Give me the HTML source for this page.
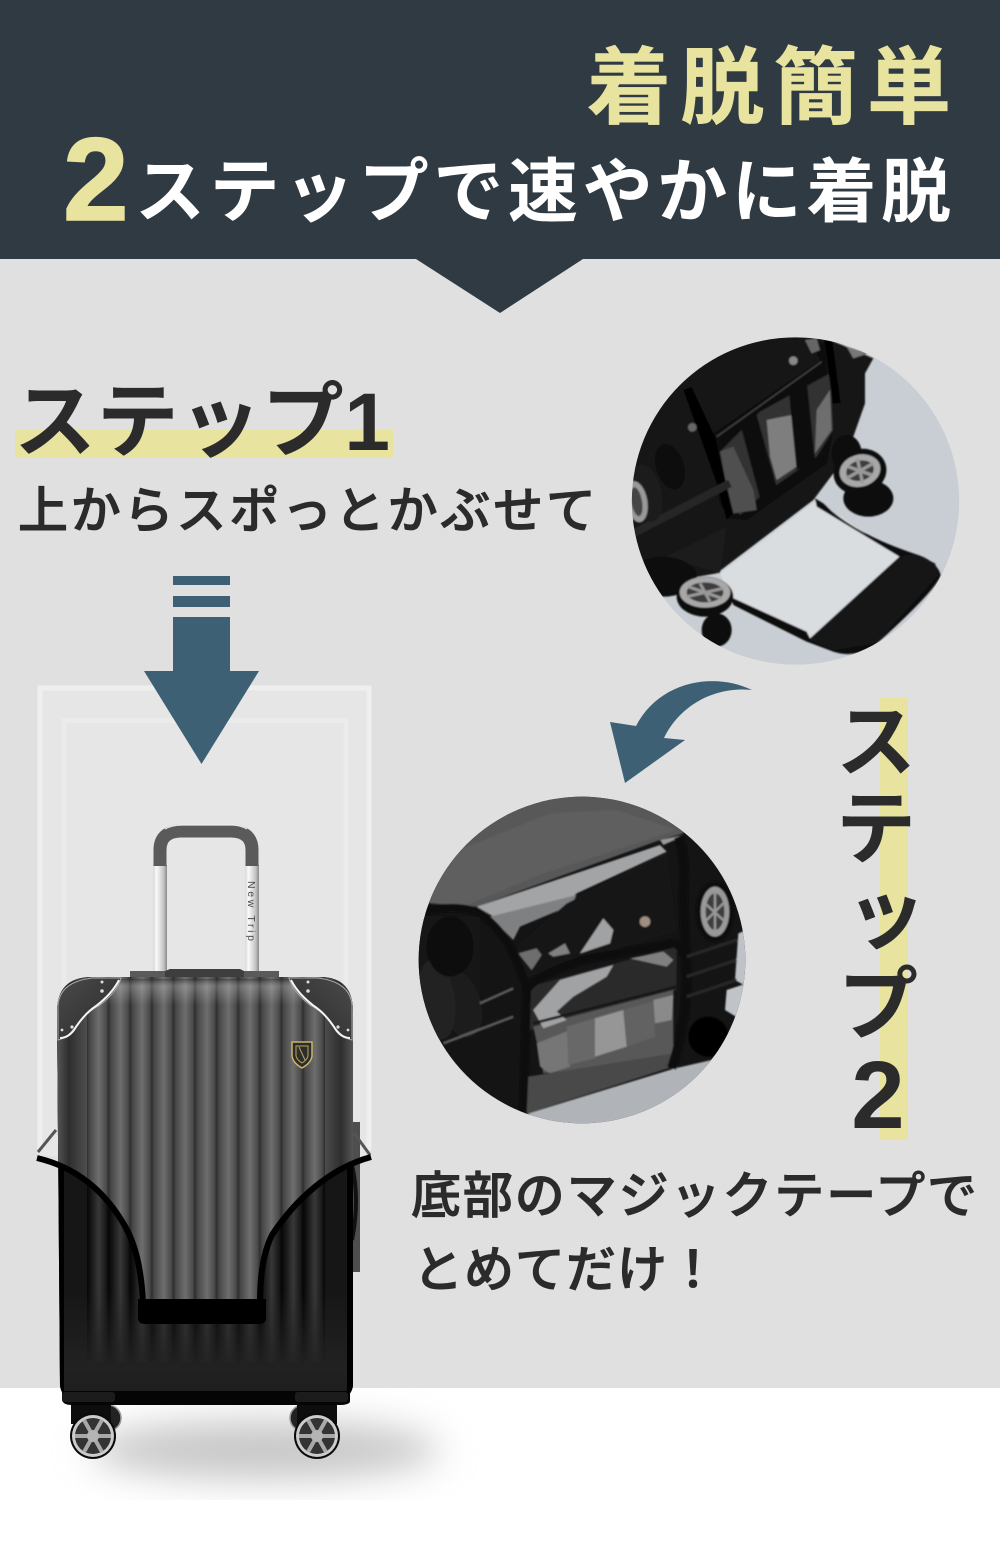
<!DOCTYPE html>
<html lang="ja"><head><meta charset="utf-8"><style>
html,body{margin:0;padding:0;background:#fff}
svg{display:block}
text{font-family:"Liberation Sans","Noto Sans CJK JP",sans-serif}
</style></head><body>
<svg xmlns="http://www.w3.org/2000/svg" width="1000" height="1567" viewBox="0 0 1000 1567">
<defs>
<linearGradient id="ribU" x1="0" x2="1" y1="0" y2="0"><stop offset="0" stop-color="#2e2e2e"/><stop offset=".1" stop-color="#464646"/><stop offset=".55" stop-color="#6e6e6e"/><stop offset=".9" stop-color="#4a4a4a"/><stop offset="1" stop-color="#2e2e2e"/></linearGradient>
<linearGradient id="ribL" x1="0" x2="1" y1="0" y2="0"><stop offset="0" stop-color="#060606"/><stop offset=".15" stop-color="#121212"/><stop offset=".55" stop-color="#383838"/><stop offset=".9" stop-color="#161616"/><stop offset="1" stop-color="#060606"/></linearGradient>
<pattern id="pU" patternUnits="userSpaceOnUse" x="87" y="0" width="21.6" height="10"><rect width="21.6" height="10" fill="url(#ribU)"/></pattern>
<pattern id="pL" patternUnits="userSpaceOnUse" x="87" y="0" width="21.6" height="10"><rect width="21.6" height="10" fill="url(#ribL)"/></pattern>
<linearGradient id="edgeU" x1="0" x2="1" y1="0" y2="0"><stop offset="0" stop-color="#555"/><stop offset=".04" stop-color="#2e2e2e"/><stop offset=".1" stop-color="#4e4e4e"/><stop offset=".9" stop-color="#4e4e4e"/><stop offset=".96" stop-color="#2e2e2e"/><stop offset="1" stop-color="#555"/></linearGradient>
<linearGradient id="fadeL" x1="0" x2="0" y1="0" y2="1"><stop offset="0" stop-color="#222" stop-opacity="0"/><stop offset=".7" stop-color="#222" stop-opacity=".95"/><stop offset="1" stop-color="#1d1d1d"/></linearGradient>
<linearGradient id="topH" x1="0" x2="0" y1="0" y2="1"><stop offset="0" stop-color="#222" stop-opacity=".4"/><stop offset=".3" stop-color="#fff" stop-opacity=".22"/><stop offset="1" stop-color="#fff" stop-opacity="0"/></linearGradient>
<linearGradient id="pole" x1="0" x2="1" y1="0" y2="0"><stop offset="0" stop-color="#d8d8d8"/><stop offset=".25" stop-color="#fafafa"/><stop offset=".75" stop-color="#c4c4c4"/><stop offset="1" stop-color="#8a8a8a"/></linearGradient>
<linearGradient id="corner" x1="0" y1="0" x2="1" y2="1"><stop offset="0" stop-color="#4a4a4a"/><stop offset="1" stop-color="#2a2a2a"/></linearGradient>
<filter id="b1" x="-50%" y="-100%" width="200%" height="300%"><feGaussianBlur stdDeviation="18"/></filter>
<filter id="s" x="-10%" y="-10%" width="120%" height="120%"><feGaussianBlur stdDeviation="2.5"/></filter>
<clipPath id="cShadow"><rect x="0" y="1389" width="1000" height="111"/></clipPath>
<clipPath id="bodyC"><path d="M57,1012 Q57,977 92,977 H320 Q353,977 353,1012 V1385 Q352,1396 340,1400 H72 Q61,1396 60,1385 Z"/></clipPath>
<clipPath id="upperC"><path d="M0,900 H400 V1157 L371,1157 C330,1168 295,1200 272,1235 C262,1255 260,1280 260,1303 H143 C142,1280 138,1250 126,1228 C105,1190 75,1167 36,1158 L0,1158 Z"/></clipPath>
<clipPath id="c1"><circle cx="526.5" cy="513" r="491"/></clipPath>
<clipPath id="c2"><circle cx="516" cy="510" r="490"/></clipPath>
</defs>

<!-- backgrounds -->
<rect width="1000" height="1567" fill="#fff"/>
<rect y="259" width="1000" height="1129" fill="#e0e0e0"/>
<rect width="1000" height="259" fill="#303a42"/>
<polygon points="416,259 500,313 583,259" fill="#303a42"/>

<!-- header -->
<text x="587" y="117" font-size="84" font-weight="700" fill="#e8e4a0" stroke="#e8e4a0" stroke-width=".6" textLength="364" lengthAdjust="spacing">着脱簡単</text>
<text x="63" y="220" font-size="118" font-weight="700" fill="#e8e4a0" stroke="#e8e4a0" stroke-width="1.5">2</text>
<text x="135" y="216" font-size="70" font-weight="700" fill="#fff" textLength="816" lengthAdjust="spacing">ステップで速やかに着脱</text>

<!-- step 1 -->
<rect x="15" y="430" width="378" height="28" fill="#e8e4a0"/>
<text x="14" y="450" font-size="82" font-weight="700" fill="#2b2b2b" textLength="376" lengthAdjust="spacing">ステップ1</text>
<text x="18" y="528" font-size="50" font-weight="500" fill="#2b2b2b" stroke="#2b2b2b" stroke-width=".9" textLength="578" lengthAdjust="spacing">上からスポっとかぶせて</text>

<!-- frame -->
<rect x="38" y="686" width="333" height="470" fill="#e6e6e6"/>
<path d="M40,1150 V688 H369 V1150" fill="none" stroke="#efefef" stroke-width="5"/>
<path d="M64,1150 V720.500 H346 V1150" fill="none" stroke="#ebebeb" stroke-width="5"/>

<!-- down arrow -->
<rect x="173" y="576" width="57" height="9" fill="#3d6075"/>
<rect x="173" y="596" width="57" height="11" fill="#3d6075"/>
<rect x="173" y="617" width="57" height="55" fill="#3d6075"/>
<polygon points="144,671 259,671 201.5,764" fill="#3d6075"/>

<!-- shadow -->
<g clip-path="url(#cShadow)"><ellipse cx="265" cy="1450" rx="175" ry="30" fill="#c8c8c8" filter="url(#b1)"/></g>

<!-- handle -->
<rect x="153" y="865" width="14" height="108" fill="url(#pole)"/>
<rect x="245" y="865" width="14" height="108" fill="url(#pole)"/>
<path d="M160,866 V850 Q160,832 180,831 H232 Q252,832 252,850 V866" fill="none" stroke="#5a5a5a" stroke-width="13"/>
<path d="M165,829 Q172,825 182,825 H232 Q240,825 247,829" fill="none" stroke="#eee" stroke-width="1.200"/>
<text transform="translate(248,881) rotate(90)" font-size="10.500" fill="#4a4a4a" textLength="60">New Trip</text>
<rect x="130" y="971" width="149" height="6" fill="#5a5a5a"/>
<polygon points="165,971 170,969 240,969 244,971 244,977 165,977" fill="#3e3e3e"/>

<!-- side straps (right handle) -->
<rect x="353" y="1122" width="7" height="150" fill="#4e4e4e"/>
<path d="M352,1165 Q360,1200 352,1240" fill="none" stroke="#111" stroke-width="4"/>
<path d="M38,1152 L56,1130" stroke="#555" stroke-width="3"/>
<path d="M354,1133 L370,1155" stroke="#555" stroke-width="3"/>

<!-- wheels back -->
<circle cx="108" cy="1418" r="13" fill="#222" stroke="#999" stroke-width="1.500"/>
<circle cx="303" cy="1418" r="13" fill="#222" stroke="#999" stroke-width="1.500"/>
<rect x="71" y="1400" width="40" height="24" fill="#0d0d0d"/>
<rect x="297" y="1400" width="40" height="24" fill="#0d0d0d"/>

<!-- body lower -->
<g clip-path="url(#bodyC)">
 <rect x="57" y="977" width="296" height="425" fill="#161616"/>
 <rect x="87" y="977" width="238" height="385" fill="url(#pL)"/>
 <rect x="57" y="1290" width="296" height="110" fill="url(#fadeL)"/>
 <rect x="57" y="977" width="7" height="425" fill="#000"/>
 <rect x="347" y="977" width="7" height="425" fill="#000"/>
 <!-- upper with cover -->
 <g clip-path="url(#upperC)">
  <rect x="57" y="977" width="296" height="330" fill="url(#edgeU)"/>
  <rect x="87" y="977" width="238" height="330" fill="url(#pU)"/>
  <rect x="87" y="979" width="238" height="26" fill="url(#topH)"/>
 </g>
</g>
<!-- base -->
<path d="M62,1391 H350 V1402 Q348,1405 340,1405 H72 Q63,1405 62,1400 Z" fill="#050505"/>
<rect x="62" y="1392" width="53" height="10" rx="3" fill="#1c1c1c"/>
<rect x="295" y="1392" width="53" height="10" rx="3" fill="#1c1c1c"/>

<!-- corners -->
<g>
<path d="M58,1040 V1005 Q60,982 92,978 H121 Q117,992 100,1005 Q86,1012 76,1026 Q68,1038 58,1040 Z" fill="url(#corner)" stroke="#aaa" stroke-width="1"/>
<path d="M119,980 Q112,994 96,1006 Q84,1014 74,1030 Q68,1038 60,1038" fill="none" stroke="#f4f4f4" stroke-width="2"/>
<circle cx="102" cy="982" r="1.500" fill="#ddd"/><circle cx="102" cy="991" r="1.800" fill="#ddd"/><circle cx="72" cy="1027" r="1.600" fill="#ddd"/><circle cx="62" cy="1030" r="1.400" fill="#ddd"/>
</g>
<g transform="translate(410,0) scale(-1,1)">
<path d="M58,1040 V1005 Q60,982 92,978 H121 Q117,992 100,1005 Q86,1012 76,1026 Q68,1038 58,1040 Z" fill="url(#corner)" stroke="#aaa" stroke-width="1"/>
<path d="M119,980 Q112,994 96,1006 Q84,1014 74,1030 Q68,1038 60,1038" fill="none" stroke="#f4f4f4" stroke-width="2"/>
<circle cx="102" cy="982" r="1.500" fill="#ddd"/><circle cx="102" cy="991" r="1.800" fill="#ddd"/><circle cx="72" cy="1027" r="1.600" fill="#ddd"/><circle cx="62" cy="1030" r="1.400" fill="#ddd"/>
</g>
<!-- logo -->
<path d="M292,1042 H312 V1056 Q311,1063 302,1068 Q293,1063 292,1056 Z" fill="#2d2d2d" stroke="#c9b56a" stroke-width="1.500"/>
<path d="M296,1046 H308 V1056 Q307,1060 302,1063 Q297,1060 296,1056 Z M299,1047 L305,1060" fill="none" stroke="#b9a75f" stroke-width="1"/>

<!-- cover edge -->
<path d="M37,1158 C75,1167 105,1190 126,1228 C138,1250 142,1280 143,1303" fill="none" stroke="#000" stroke-width="6"/>
<path d="M371,1157 C330,1168 295,1200 272,1235 C262,1255 260,1280 260,1303" fill="none" stroke="#000" stroke-width="6"/>
<path d="M138,1299 H266 V1318 Q266,1324 259,1324 H145 Q138,1324 138,1318 Z" fill="#000"/>

<!-- front wheels -->
<g>
<circle cx="93" cy="1436" r="23" fill="#0a0a0a"/><circle cx="93" cy="1436" r="21" fill="#ccc"/><circle cx="93" cy="1436" r="18" fill="#333"/>
<path d="M75,1436 H111 M84,1420 L102,1452 M84,1452 L102,1420" stroke="#a8a8a8" stroke-width="4"/><circle cx="93" cy="1436" r="6" fill="#b4b4b4"/>
<circle cx="317" cy="1436" r="23" fill="#0a0a0a"/><circle cx="317" cy="1436" r="21" fill="#ccc"/><circle cx="317" cy="1436" r="18" fill="#333"/>
<path d="M299,1436 H335 M308,1420 L326,1452 M308,1452 L326,1420" stroke="#a8a8a8" stroke-width="4"/><circle cx="317" cy="1436" r="6" fill="#b4b4b4"/>
</g>

<!-- photo circle 1 -->
<g transform="translate(620,330) scale(.33333)">
<g clip-path="url(#c1)">
<rect width="1050" height="1035" fill="#c8ced4"/>
<g filter="url(#s)">
<!-- plastic & velcro -->
<polygon points="590,510 840,680 570,930 340,825 300,730" fill="#d9dde0"/>
<path d="M585,505 L610,520 Q700,610 880,670 Q950,690 962,735 Q950,780 760,950 Q700,985 640,965 L560,935 L340,825 L330,800 L560,905 L570,925 L838,680 L590,530 Z" fill="#111"/>
<polygon points="840,680 885,672 945,700 955,735 770,940 640,960 570,930" fill="#141414"/>
<!-- bag -->
<path d="M560,0 L760,85 L735,130 L735,220 L700,320 L640,430 L580,510 L290,730 L60,770 L0,700 L0,300 L250,0 Z" fill="#121212"/>
<path d="M190,180 L560,30 L610,40 L640,300 L620,400 L380,570 L330,565 L300,520 L260,300 Z" fill="#0e0e0e"/>
<path d="M190,170 L240,60 L560,20 L600,90 L280,310 Z" fill="#191919"/>
<path d="M290,320 L605,95" stroke="#444" stroke-width="4"/>
<polygon points="300,365 420,245 630,130 640,300 590,380 420,500 360,555 330,520" fill="#333"/>
<polygon points="440,270 515,255 530,410 470,450 450,380" fill="#7e7e7e"/>
<polygon points="590,240 630,180 635,300 585,370" fill="#6e6e6e"/>
<polygon points="300,365 340,350 400,480 410,540 340,550 320,470" fill="#505050"/>
<polygon points="360,280 410,255 470,470 420,505" fill="#0d0d0d"/>
<polygon points="505,170 560,150 585,390 530,420" fill="#0d0d0d"/>
<polygon points="190,180 215,170 285,320 340,550 320,570 290,460" fill="#000"/>
<path d="M625,30 L650,220" stroke="#000" stroke-width="24"/>
<polygon points="555,30 590,25 600,60 575,70" fill="#666"/>
<polygon points="680,50 745,70 700,85" fill="#777"/>
<circle cx="520" cy="92" r="13" fill="#888"/>
<circle cx="217" cy="292" r="13" fill="#666"/>
<path d="M40,610 L330,460" stroke="#262626" stroke-width="24"/>
<polygon points="80,710 320,590 300,730 130,680" fill="#1c1c1c"/>
<!-- left wheels -->
<ellipse cx="150" cy="410" rx="75" ry="95" fill="#181818" transform="rotate(-18 150 410)"/>
<ellipse cx="150" cy="410" rx="42" ry="70" fill="#0a0a0a" transform="rotate(-18 150 410)"/>
<ellipse cx="80" cy="490" rx="45" ry="88" fill="#1c1c1c" transform="rotate(-12 80 490)"/>
<ellipse cx="50" cy="515" rx="32" ry="62" fill="#999" transform="rotate(-10 50 515)"/>
<ellipse cx="50" cy="515" rx="16" ry="44" fill="#444" transform="rotate(-10 50 515)"/>
<!-- right wheel -->
<ellipse cx="745" cy="505" rx="75" ry="55" fill="#0d0d0d"/>
<ellipse cx="680" cy="370" rx="45" ry="55" fill="#111"/>
<ellipse cx="720" cy="425" rx="80" ry="68" fill="#101010" transform="rotate(-15 720 425)"/>
<ellipse cx="720" cy="422" rx="62" ry="48" fill="#a8a8a8" transform="rotate(-15 720 422)"/>
<ellipse cx="720" cy="422" rx="42" ry="30" fill="#3e3e3e" transform="rotate(-15 720 422)"/>
<path d="M680,445 L760,400 M712,385 L728,460 M685,410 L755,435" stroke="#999" stroke-width="10"/>
<!-- bottom wheel -->
<ellipse cx="290" cy="900" rx="45" ry="50" fill="#111"/>
<ellipse cx="130" cy="740" rx="100" ry="60" fill="#0d0d0d"/>
<ellipse cx="255" cy="800" rx="85" ry="60" fill="#101010"/>
<ellipse cx="255" cy="787" rx="76" ry="46" fill="#a8a8a8"/>
<ellipse cx="255" cy="787" rx="55" ry="30" fill="#3c3c3c"/>
<path d="M200,800 L310,775 M240,760 L270,815 M205,770 L305,805" stroke="#999" stroke-width="9"/>
</g>
</g>
</g>

<!-- photo circle 2 -->
<g transform="translate(410,790) scale(.33333)">
<g clip-path="url(#c2)">
<rect width="1035" height="1020" fill="#141414"/>
<g filter="url(#s)">
<polygon points="0,300 60,340 200,350 750,150 820,130 820,0 0,0" fill="#595959"/>
<polygon points="100,200 420,70 620,60 800,120 400,250 170,345 60,340" fill="#5f5f5f"/>
<polygon points="200,350 750,165 770,185 500,310 470,340 250,380" fill="#a2a4a6"/>
<polygon points="240,380 500,315 485,345 330,410 310,450" fill="#7e8082"/>
<polygon points="820,135 750,150 760,165 805,145" fill="#999"/>
<!-- carbon panel -->
<polygon points="320,470 470,340 770,190 800,420 350,560" fill="#171717"/>
<polygon points="510,490 580,385 610,420 600,460" fill="#a0a2a4"/>
<polygon points="325,490 380,475 395,495 365,540" fill="#6e6e6e"/>
<polygon points="415,490 465,460 480,490 430,500" fill="#808080"/>
<circle cx="705" cy="395" r="16" fill="#a08e80"/>
<!-- pocket -->
<polygon points="360,590 800,470 800,600 470,700 360,720" fill="#2a2a2a"/>
<polygon points="370,710 790,600 790,810 400,850" fill="#585858"/>
<polygon points="370,660 450,570 610,525 590,560 490,620 440,665 470,690 400,715" fill="#a0a2a4"/>
<polygon points="660,505 760,485 790,510 770,530" fill="#808080"/>
<polygon points="555,685 640,660 650,770 555,800" fill="#969696"/>
<polygon points="730,630 790,615 785,690 735,700" fill="#8a8a8a"/>
<polygon points="380,760 480,720 480,830 420,850 390,830" fill="#767676"/>
<polygon points="470,710 555,685 555,805 475,825" fill="#686868"/>
<polygon points="640,660 730,635 735,740 650,770" fill="#626262"/>
<path d="M370,700 L800,590" stroke="#181818" stroke-width="8"/>
<path d="M350,600 Q370,560 520,510 L790,460 Q825,470 825,510" fill="none" stroke="#0a0a0a" stroke-width="26"/>
<path d="M340,980 L350,590" stroke="#0a0a0a" stroke-width="26"/>
<!-- bottom transparent -->
<polygon points="355,860 790,790 790,830 350,970" fill="#4a4a4a"/>
<polygon points="355,970 795,835 1035,780 1035,1020 355,1020" fill="#b0b4b8"/>
<!-- outline flap -->
<path d="M20,370 Q120,340 200,365 Q290,420 330,540 L350,590" fill="none" stroke="#0a0a0a" stroke-width="24"/>
<path d="M805,140 Q830,200 820,320 L830,560 Q830,700 785,835" fill="none" stroke="#0a0a0a" stroke-width="28"/>
<!-- left wheels -->
<rect x="0" y="380" width="210" height="300" fill="#131313"/>
<ellipse cx="150" cy="640" rx="62" ry="105" fill="#1a1a1a" transform="rotate(-18 150 640)"/>
<ellipse cx="80" cy="630" rx="55" ry="120" fill="#242424" transform="rotate(-8 80 630)"/>
<ellipse cx="120" cy="470" rx="70" ry="90" fill="#0f0f0f"/>
<path d="M210,640 L310,595 M100,760 L310,680" stroke="#5a5a5a" stroke-width="8"/>
<!-- right hub -->
<ellipse cx="915" cy="365" rx="58" ry="92" fill="#101010"/>
<ellipse cx="915" cy="365" rx="43" ry="75" fill="#999"/>
<ellipse cx="915" cy="365" rx="28" ry="55" fill="#3d3d3d"/>
<path d="M885,340 L945,395 M915,310 L915,420 M885,395 L945,335" stroke="#999" stroke-width="7"/>
<polygon points="985,430 1010,420 1010,590 975,570" fill="#bfc3c7"/>
<polygon points="950,600 1010,580 1010,700 945,660" fill="#c0c4c8"/>
<ellipse cx="895" cy="740" rx="60" ry="60" fill="#060606"/>
<path d="M830,500 L980,450 M830,560 L980,510 M830,620 L980,570" stroke="#262626" stroke-width="10"/>
</g>
</g>
</g>

<!-- curved arrow -->
<path d="M752,690 C715,672 660,680 636,726 L610,722 L625,783 L685,740 L664,738 C680,705 715,686 752,690 Z" fill="#3d6075"/>

<!-- step 2 vertical -->
<rect x="880" y="698" width="28" height="442" fill="#e8e4a0"/>
<text x="876" y="770" font-size="80" font-weight="700" fill="#2b2b2b" text-anchor="middle">ス</text>
<text x="876" y="857" font-size="80" font-weight="700" fill="#2b2b2b" text-anchor="middle">テ</text>
<text x="886" y="942" font-size="80" font-weight="700" fill="#2b2b2b" text-anchor="middle">ッ</text>
<text x="878" y="1033" font-size="80" font-weight="700" fill="#2b2b2b" text-anchor="middle">プ</text>
<text x="878" y="1128" font-size="96" font-weight="700" fill="#2b2b2b" text-anchor="middle">2</text>

<text x="411" y="1213" font-size="50" font-weight="500" fill="#2b2b2b" stroke="#2b2b2b" stroke-width=".9" textLength="566" lengthAdjust="spacing">底部のマジックテープで</text>
<text x="413" y="1287" font-size="50" font-weight="500" fill="#2b2b2b" stroke="#2b2b2b" stroke-width=".9" textLength="305" lengthAdjust="spacing">とめてだけ！</text>
</svg>
</body></html>
